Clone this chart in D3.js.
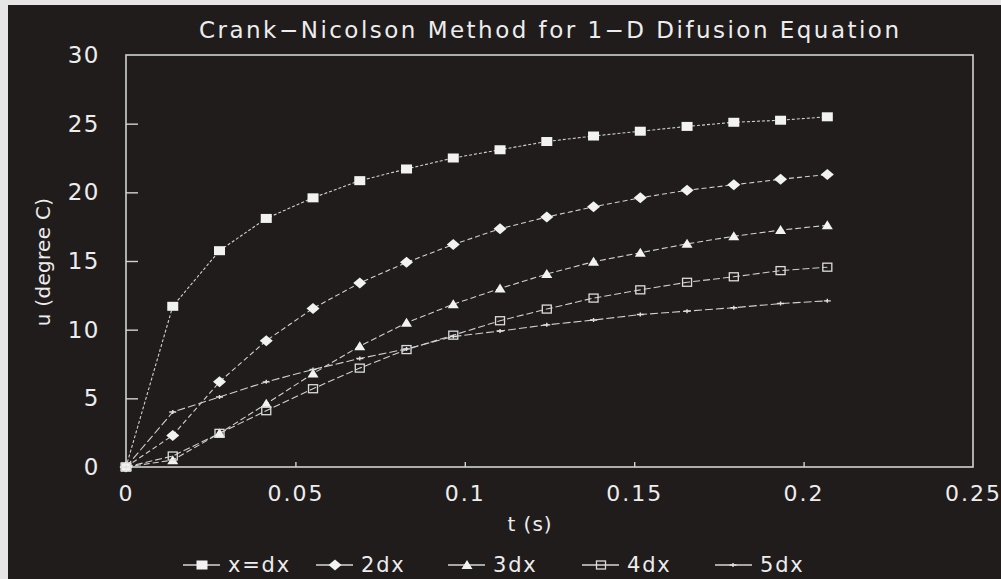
<!DOCTYPE html>
<html>
<head>
<meta charset="utf-8">
<script src="https://cdn.jsdelivr.net/npm/d3@7"></script>
<style>
  html, body { margin: 0; padding: 0; background: #e6e6e6; }
  svg { display: block; }
  text { font-family: "DejaVu Sans", sans-serif; fill: #ededed; }
</style>
</head>
<body>
<svg id="chart" width="1001" height="579"></svg>
<script>
// Time levels of the Crank-Nicolson scheme (s)
const times = [0, 0.0138, 0.0276, 0.0414, 0.0552, 0.069, 0.0828, 0.0966,
               0.1104, 0.1242, 0.138, 0.1518, 0.1656, 0.1794, 0.1932, 0.207];

// Temperature u (degree C) at the interior nodes x = dx ... 5dx
const u1dx = [0, 11.7, 15.75, 18.1, 19.6, 20.85, 21.7, 22.5, 23.1, 23.7, 24.1, 24.45, 24.8, 25.1, 25.25, 25.5];
const u2dx = [0, 2.3, 6.2, 9.2, 11.55, 13.4, 14.9, 16.2, 17.35, 18.2, 18.95, 19.6, 20.15, 20.55, 20.95, 21.3];
const u3dx = [0, 0.5, 2.45, 4.6, 6.8, 8.8, 10.5, 11.85, 13.0, 14.05, 14.95, 15.6, 16.25, 16.8, 17.25, 17.6];
const u4dx = [0, 0.8, 2.45, 4.1, 5.7, 7.2, 8.55, 9.6, 10.65, 11.5, 12.3, 12.9, 13.45, 13.85, 14.3, 14.55];
const u5dx = [0, 4.0, 5.1, 6.2, 7.1, 7.9, 8.6, 9.5, 9.9, 10.35, 10.7, 11.1, 11.35, 11.6, 11.9, 12.1];

const seriesNames = ["x=dx", "2dx", "3dx", "4dx", "5dx"];
const xTickValues = [0, 0.05, 0.1, 0.15, 0.2, 0.25];
const xTickLabels = ["0", "0.05", "0.1", "0.15", "0.2", "0.25"];
const yTickValues = [0, 5, 10, 15, 20, 25, 30];
const yTickLabels = ["0", "5", "10", "15", "20", "25", "30"];

const titleText = "Crank\u2212Nicolson Method for 1\u2212D Difusion Equation";
const xLabel = "t (s)";
const yLabel = "u (degree C)";

const series = [u1dx, u2dx, u3dx, u4dx, u5dx].map((vals, i) => ({
  name: seriesNames[i],
  points: vals.map((v, j) => ({ t: times[j], u: v }))
}));

const svg = d3.select("#chart");

// dark panel
svg.append("rect").attr("x", 8).attr("y", 5).attr("width", 993).attr("height", 574)
  .attr("fill", "#201c1c");

const plot = { left: 126, right: 973, top: 55, bottom: 467 };
const x = d3.scaleLinear().domain([0, 0.25]).range([plot.left, plot.right]);
const y = d3.scaleLinear().domain([0, 30]).range([plot.bottom, plot.top]);

const axisColor = "#d2d2d2";

// plot frame
svg.append("rect")
  .attr("x", plot.left).attr("y", plot.top)
  .attr("width", plot.right - plot.left).attr("height", plot.bottom - plot.top)
  .attr("fill", "none").attr("stroke", axisColor).attr("stroke-width", 1.6);

// y axis: inward ticks, labels to the left
const yAxis = d3.axisLeft(y).tickValues(yTickValues)
  .tickFormat((d, i) => yTickLabels[i]).tickSizeInner(-12).tickSizeOuter(0).tickPadding(26);
const gy = svg.append("g").attr("transform", `translate(${plot.left},0)`).call(yAxis);
gy.select(".domain").remove();
gy.selectAll(".tick line").attr("stroke", axisColor).attr("stroke-width", 1.4)
  .filter(d => d === 0 || d === 30).remove();
gy.selectAll(".tick text").attr("fill", "#ededed").attr("font-size", 23)
  .attr("font-family", "DejaVu Sans, sans-serif").attr("letter-spacing", 1.5);

// x axis: short inward ticks, labels below
const xAxis = d3.axisBottom(x).tickValues(xTickValues)
  .tickFormat((d, i) => xTickLabels[i]).tickSizeInner(-5).tickSizeOuter(0).tickPadding(18);
const gx = svg.append("g").attr("transform", `translate(0,${plot.bottom})`).call(xAxis);
gx.select(".domain").remove();
gx.selectAll(".tick line").attr("stroke", axisColor).attr("stroke-width", 1.4)
  .filter(d => d === 0 || d === 0.25).remove();
gx.selectAll(".tick text").attr("fill", "#ededed").attr("font-size", 22)
  .attr("font-family", "DejaVu Sans, sans-serif").attr("letter-spacing", 2);

// titles
svg.append("text").attr("x", 549).attr("y", 38).attr("text-anchor", "middle")
  .attr("font-size", 23).attr("textLength", 700).attr("lengthAdjust", "spacing")
  .text(titleText);
svg.append("text").attr("x", 530).attr("y", 531).attr("text-anchor", "middle")
  .attr("font-size", 20).attr("letter-spacing", 1).text(xLabel);
svg.append("text").attr("transform", "translate(50,262) rotate(-90)")
  .attr("text-anchor", "middle").attr("font-size", 20).attr("letter-spacing", 0.3).text(yLabel);

// marker shapes
const markerColor = "#f2f2f2";
function drawMarker(g, kind) {
  if (kind === 0) {
    g.append("rect").attr("x", -5.5).attr("y", -4.5).attr("width", 11).attr("height", 9)
      .attr("fill", markerColor);
  } else if (kind === 1) {
    g.append("path").attr("d", "M0,-5.5L6.5,0L0,5.5L-6.5,0Z").attr("fill", markerColor);
  } else if (kind === 2) {
    g.append("path").attr("d", "M0,-5L5.5,4L-5.5,4Z").attr("fill", markerColor);
  } else if (kind === 3) {
    g.append("rect").attr("x", -4.5).attr("y", -4).attr("width", 9).attr("height", 8)
      .attr("fill", "none").attr("stroke", "#dcdcdc").attr("stroke-width", 1.3);
  } else {
    g.append("path").attr("d", "M-3.5,0H3.5M0,-2V2").attr("stroke", "#e0e0e0")
      .attr("stroke-width", 1.4);
  }
}

const dashes = ["3,2", "5,3", "6,3", "7,3", "8,3"];
const line = d3.line().x(d => x(d.t)).y(d => y(d.u));

series.forEach((s, i) => {
  svg.append("path").datum(s.points)
    .attr("d", line).attr("fill", "none")
    .attr("stroke", "#d0d0d0").attr("stroke-width", 1.1)
    .attr("stroke-dasharray", dashes[i]);
});
series.forEach((s, i) => {
  svg.append("g").selectAll("g").data(s.points).join("g")
    .attr("transform", d => `translate(${x(d.t)},${y(d.u)})`)
    .each(function () { drawMarker(d3.select(this), i); });
});

// legend
const legendX = [183, 316, 448, 582, 715];
const legendY = 565;
series.forEach((s, i) => {
  const g = svg.append("g").attr("transform", `translate(${legendX[i]},${legendY})`);
  g.append("line").attr("x1", 0).attr("x2", 37).attr("y1", 0).attr("y2", 0)
    .attr("stroke", "#d6d6d6").attr("stroke-width", 1.3);
  const m = g.append("g").attr("transform", `translate(${i === 4 ? 18 : 19},0)`);
  drawMarker(m, i);
  g.append("text").attr("x", 45).attr("y", 7).attr("font-size", 21)
    .attr("letter-spacing", 1.8).text(s.name);
});
</script>
</body>
</html>
